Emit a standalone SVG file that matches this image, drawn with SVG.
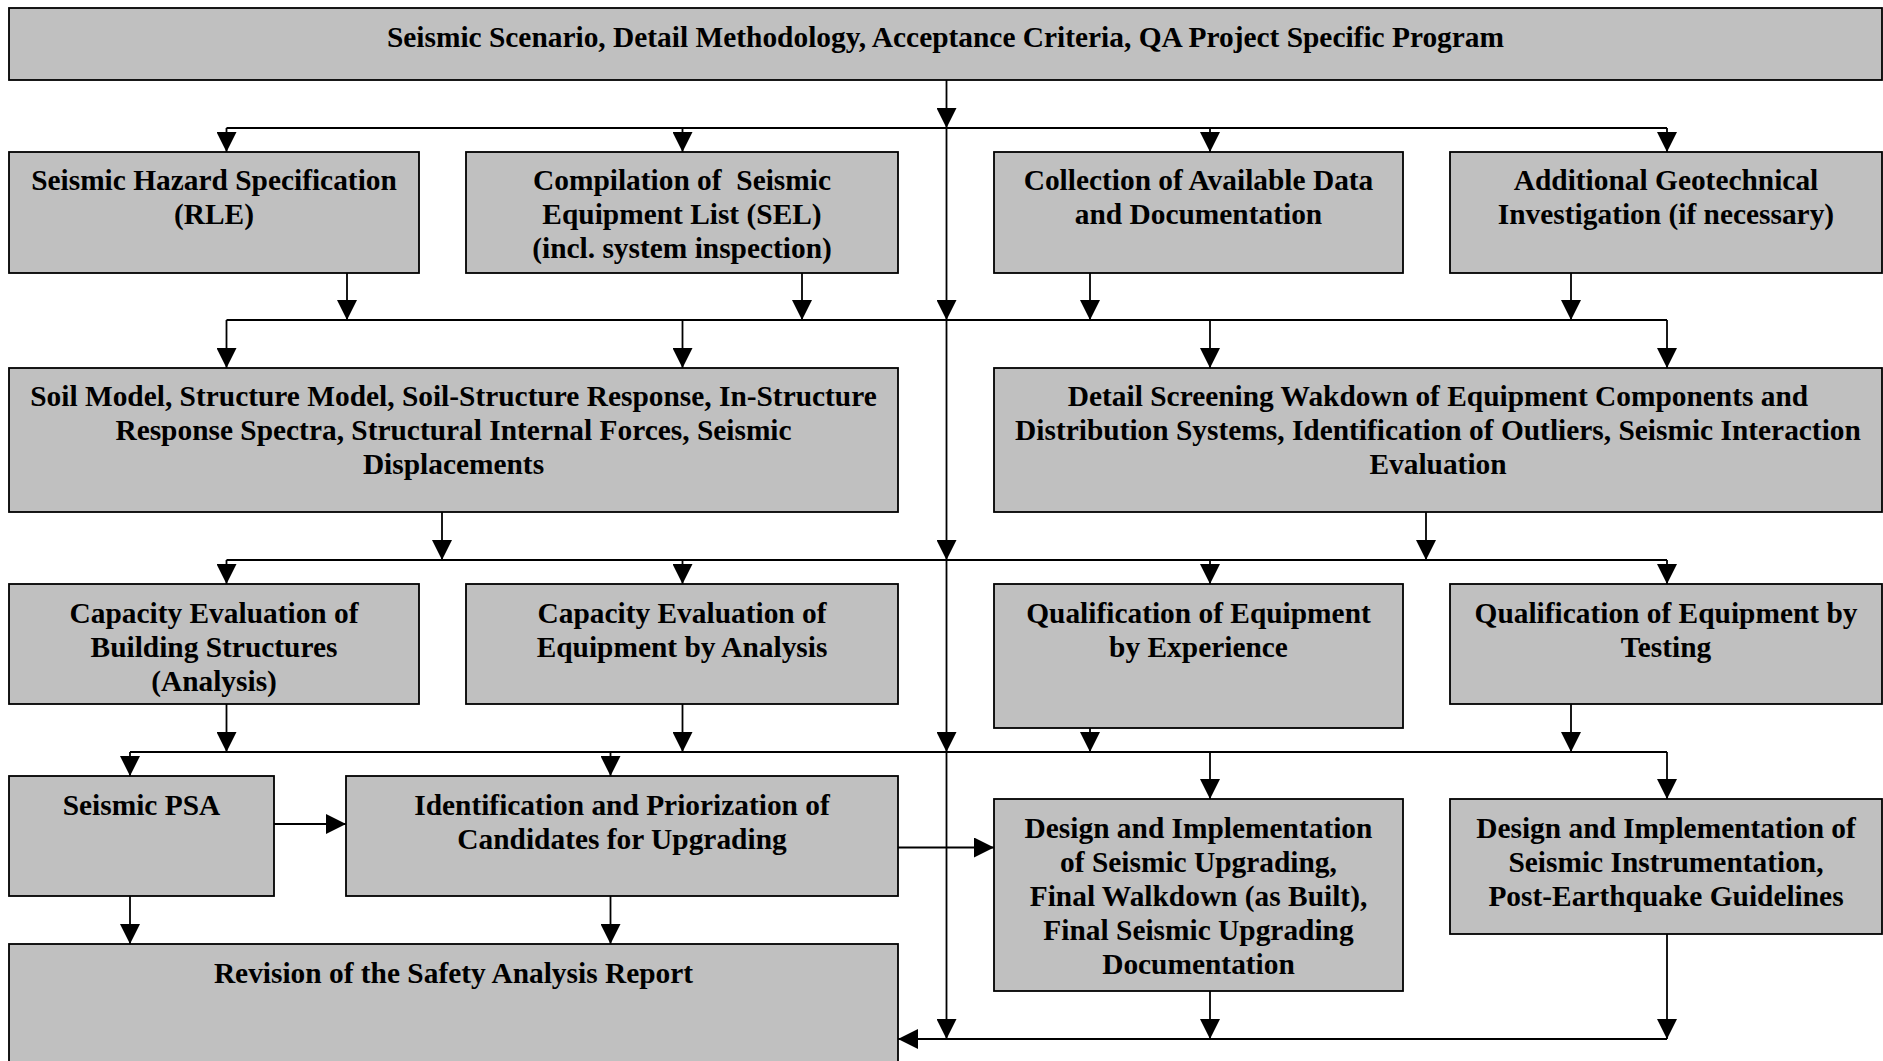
<svg xmlns="http://www.w3.org/2000/svg" width="1883" height="1061" viewBox="0 0 1883 1061">
<style>
.box{fill:#c0c0c0;stroke:#000;stroke-width:1.8}
.t{font-family:"Liberation Serif","Times New Roman",serif;font-weight:bold;font-size:29.4px;fill:#000;text-anchor:middle}
.c{fill:none;stroke:#000;stroke-width:1.8}
.a{fill:none;stroke:#000;stroke-width:1.8;marker-end:url(#ah)}
</style>
<defs>
<marker id="ah" markerUnits="userSpaceOnUse" markerWidth="20" markerHeight="20" viewBox="0 0 20 20" refX="20" refY="10" orient="auto">
<path d="M0,0 L20,10 L0,20 Z" fill="#000"/>
</marker>
</defs>
<rect width="1883" height="1061" fill="#fff"/>

<g id="connectors">
<path class="a" d="M946.5,80 V128"/>
<path class="a" d="M946.5,128 V320"/>
<path class="a" d="M946.5,320 V560"/>
<path class="a" d="M946.5,560 V752"/>
<path class="a" d="M946.5,752 V1039"/>
<path class="c" d="M226.5,128 H1667"/>
<path class="a" d="M226.5,128 V152"/>
<path class="a" d="M682.5,128 V152"/>
<path class="a" d="M1210,128 V152"/>
<path class="a" d="M1667,128 V152"/>
<path class="a" d="M347,273 V320"/>
<path class="a" d="M802,273 V320"/>
<path class="a" d="M1090,273 V320"/>
<path class="a" d="M1571,273 V320"/>
<path class="c" d="M226.5,320 H1667"/>
<path class="a" d="M226.5,320 V368"/>
<path class="a" d="M682.5,320 V368"/>
<path class="a" d="M1210,320 V368"/>
<path class="a" d="M1667,320 V368"/>
<path class="a" d="M442,512 V560"/>
<path class="a" d="M1426,512 V560"/>
<path class="c" d="M226.5,560 H1667"/>
<path class="a" d="M226.5,560 V584"/>
<path class="a" d="M682.5,560 V584"/>
<path class="a" d="M1210,560 V584"/>
<path class="a" d="M1667,560 V584"/>
<path class="a" d="M226.5,704 V752"/>
<path class="a" d="M682.5,704 V752"/>
<path class="a" d="M1090,728 V752"/>
<path class="a" d="M1571,704 V752"/>
<path class="c" d="M130,752 H1667"/>
<path class="a" d="M130,752 V776"/>
<path class="a" d="M610.5,752 V776"/>
<path class="a" d="M1210,752 V799"/>
<path class="a" d="M1667,752 V799"/>
<path class="a" d="M274,824 H346"/>
<path class="a" d="M898,847.5 H994"/>
<path class="a" d="M130,896 V944"/>
<path class="a" d="M610.5,896 V944"/>
<path class="a" d="M1210,991 V1039"/>
<path class="a" d="M1667,934 V1039"/>
<path class="a" d="M1667,1039 H898"/>
</g>

<g id="n-top">
<rect class="box" x="9" y="8" width="1873" height="72"/>
<text class="t" x="945.5" y="46.5">Seismic Scenario, Detail Methodology, Acceptance Criteria, QA Project Specific Program</text>
</g>

<g id="n-hazard">
<rect class="box" x="9" y="152" width="410" height="121"/>
<text class="t" x="214" y="190"><tspan x="214">Seismic Hazard Specification</tspan><tspan x="214" dy="34">(RLE)</tspan></text>
</g>
<g id="n-sel">
<rect class="box" x="466" y="152" width="432" height="121"/>
<text class="t" x="682" y="190"><tspan x="682">Compilation of&#160; Seismic</tspan><tspan x="682" dy="34">Equipment List (SEL)</tspan><tspan x="682" dy="34">(incl. system inspection)</tspan></text>
</g>
<g id="n-data">
<rect class="box" x="994" y="152" width="409" height="121"/>
<text class="t" x="1198.5" y="190"><tspan x="1198.5">Collection of Available Data</tspan><tspan x="1198.5" dy="34">and Documentation</tspan></text>
</g>
<g id="n-geo">
<rect class="box" x="1450" y="152" width="432" height="121"/>
<text class="t" x="1666" y="190"><tspan x="1666">Additional Geotechnical</tspan><tspan x="1666" dy="34">Investigation (if necessary)</tspan></text>
</g>

<g id="n-soil">
<rect class="box" x="9" y="368" width="889" height="144"/>
<text class="t" x="453.5" y="406"><tspan x="453.5">Soil Model, Structure Model, Soil-Structure Response, In-Structure</tspan><tspan x="453.5" dy="34">Response Spectra, Structural Internal Forces, Seismic</tspan><tspan x="453.5" dy="34">Displacements</tspan></text>
</g>
<g id="n-walkdown">
<rect class="box" x="994" y="368" width="888" height="144"/>
<text class="t" x="1438" y="406"><tspan x="1438">Detail Screening Wakdown of Equipment Components and</tspan><tspan x="1438" dy="34">Distribution Systems, Identification of Outliers, Seismic Interaction</tspan><tspan x="1438" dy="34">Evaluation</tspan></text>
</g>

<g id="n-capbuild">
<rect class="box" x="9" y="584" width="410" height="120"/>
<text class="t" x="214" y="622.5"><tspan x="214">Capacity Evaluation of</tspan><tspan x="214" dy="34">Building Structures</tspan><tspan x="214" dy="34">(Analysis)</tspan></text>
</g>
<g id="n-capequip">
<rect class="box" x="466" y="584" width="432" height="120"/>
<text class="t" x="682" y="622.5"><tspan x="682">Capacity Evaluation of</tspan><tspan x="682" dy="34">Equipment by Analysis</tspan></text>
</g>
<g id="n-qualexp">
<rect class="box" x="994" y="584" width="409" height="144"/>
<text class="t" x="1198.5" y="622.5"><tspan x="1198.5">Qualification of Equipment</tspan><tspan x="1198.5" dy="34">by Experience</tspan></text>
</g>
<g id="n-qualtest">
<rect class="box" x="1450" y="584" width="432" height="120"/>
<text class="t" x="1666" y="622.5"><tspan x="1666">Qualification of Equipment by</tspan><tspan x="1666" dy="34">Testing</tspan></text>
</g>

<g id="n-psa">
<rect class="box" x="9" y="776" width="265" height="120"/>
<text class="t" x="141.5" y="814.5">Seismic PSA</text>
</g>
<g id="n-ident">
<rect class="box" x="346" y="776" width="552" height="120"/>
<text class="t" x="622" y="814.5"><tspan x="622">Identification and Priorization of</tspan><tspan x="622" dy="34">Candidates for Upgrading</tspan></text>
</g>
<g id="n-design">
<rect class="box" x="994" y="799" width="409" height="192"/>
<text class="t" x="1198.5" y="838"><tspan x="1198.5">Design and Implementation</tspan><tspan x="1198.5" dy="34">of Seismic Upgrading,</tspan><tspan x="1198.5" dy="34">Final Walkdown (as Built),</tspan><tspan x="1198.5" dy="34">Final Seismic Upgrading</tspan><tspan x="1198.5" dy="34">Documentation</tspan></text>
</g>
<g id="n-instr">
<rect class="box" x="1450" y="799" width="432" height="135"/>
<text class="t" x="1666" y="838"><tspan x="1666">Design and Implementation of</tspan><tspan x="1666" dy="34">Seismic Instrumentation,</tspan><tspan x="1666" dy="34">Post-Earthquake Guidelines</tspan></text>
</g>

<g id="n-revision">
<rect class="box" x="9" y="944" width="889" height="125"/>
<text class="t" x="453.5" y="982.5">Revision of the Safety Analysis Report</text>
</g>
</svg>
